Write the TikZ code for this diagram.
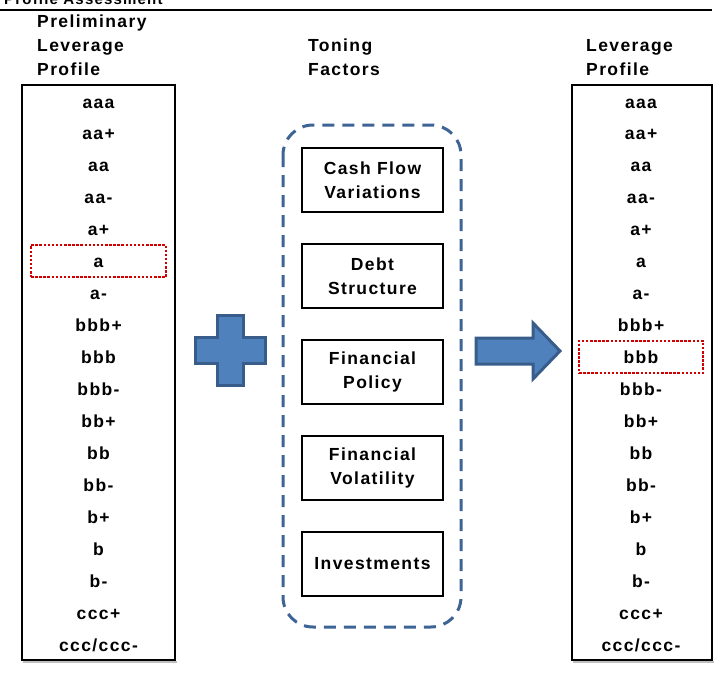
\documentclass[tikz,border=0pt]{standalone}
\usepackage{fontspec}
\setmainfont{Liberation Sans}[LetterSpace=8]
\definecolor{dashblue}{HTML}{3E6496}
\definecolor{plusfill}{HTML}{4F81BD}
\definecolor{plusedge}{HTML}{385D8A}
\definecolor{hired}{HTML}{D00000}
\begin{document}
\begin{tikzpicture}[x=1pt,y=-1pt,
  txt/.style={font=\fontsize{17.5}{24}\selectfont\bfseries, inner sep=0pt},
  hdr/.style={txt, anchor=base west, align=left},
  row/.style={txt, anchor=base},
  scalebox/.style={draw=black, line width=2pt},
  factor/.style={draw=black, line width=2pt, minimum width=141pt, minimum height=64pt, txt, align=center},
  hilite/.style={draw=hired, line width=2pt, dash pattern=on 2.5pt off 1.6pt, minimum height=32pt},
  shapefill/.style={fill=plusfill, draw=plusedge, line width=3pt, line join=miter}
]
\useasboundingbox (0,0) rectangle (718,677);
% title and rule
\node[hdr, font=\fontsize{15}{16}\selectfont\bfseries] (title) at (4,5) {Profile Assessment};
\draw[line width=2pt] (0,10) -- (712,10);
% headers
\node[hdr] (hl1) at (37,28) {Preliminary};
\node[hdr] (hl2) at (37,52) {Leverage};
\node[hdr] (hl3) at (37,75.5) {Profile};
\node[hdr] (hm1) at (308,52) {Toning};
\node[hdr] (hm2) at (308,75.5) {Factors};
\node[hdr] (hr1) at (586,52) {Leverage};
\node[hdr] (hr2) at (586,75.5) {Profile};
% scale boxes with shadow
\draw[gray!50, line width=1.5pt] (23,662) -- (177,662);
\draw[gray!50, line width=1.5pt] (573,662) -- (714,662);
\draw[scalebox] (22,85) rectangle (175,660);
\draw[scalebox] (572,85) rectangle (712,660);
\foreach \lab [count=\i from 0] in {aaa,aa+,aa,aa-,a+,a,a-,bbb+,bbb,bbb-,bb+,bb,bb-,b+,b,b-,ccc+,ccc/ccc-}{
  \node[row] (L\i) at (98.5,{108+\i*31.95}) {\lab};
  \node[row] (R\i) at (641,{108+\i*31.95}) {\lab};
}
% highlights
\node[hilite, minimum width=135pt] (hlL) at (98.5,261) {};
\node[hilite, minimum width=124pt] (hlR) at (641,357) {};
% toning factors
\draw[dashblue, line width=3pt, dash pattern=on 12pt off 8pt, rounded corners=30pt] (283,125) rectangle (461,627);
\node[factor] (f1) at (372.5,180) {Cash Flow\\Variations};
\node[factor] (f2) at (372.5,276) {Debt\\Structure};
\node[factor] (f3) at (372.5,372) {Financial\\Policy};
\node[factor] (f4) at (372.5,468) {Financial\\Volatility};
\node[factor] (f5) at (372.5,564) {Investments};
% plus sign
\draw[shapefill] (217,315) -- (243,315) -- (243,337) -- (265,337) -- (265,363) -- (243,363) -- (243,385) -- (217,385) -- (217,363) -- (195,363) -- (195,337) -- (217,337) -- cycle;
% arrow
\draw[shapefill] (476,338) -- (533,338) -- (533,323) -- (560,351) -- (533,379) -- (533,364) -- (476,364) -- cycle;
\end{tikzpicture}
\end{document}
